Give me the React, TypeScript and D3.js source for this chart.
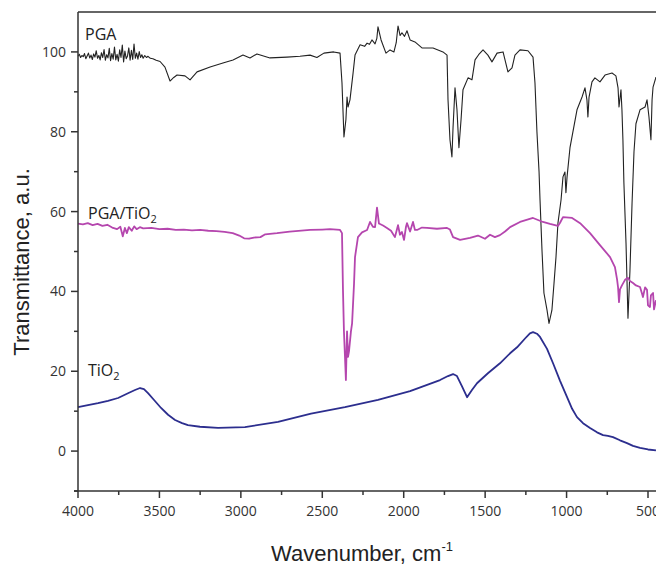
import React from 'react';
import * as d3 from 'd3';

// [wavenumber cm-1, transmittance a.u.]
const pga: [number, number][] = [
  [4000, 98.9], [3992, 99.4], [3984, 98.6], [3976, 99.1], [3968, 98.8], [3960, 99.6],
  [3952, 98.3], [3944, 99.0], [3936, 99.7], [3928, 98.5], [3920, 99.2], [3912, 98.1],
  [3904, 99.5], [3896, 98.7], [3888, 100.3], [3880, 98.4], [3872, 99.1], [3864, 98.0],
  [3856, 99.8], [3848, 98.6], [3840, 100.6], [3832, 97.9], [3824, 99.3], [3816, 98.5],
  [3808, 100.9], [3800, 97.8], [3792, 99.6], [3784, 98.2], [3776, 101.2], [3768, 98.0],
  [3760, 99.4], [3752, 97.7], [3744, 100.5], [3736, 98.6], [3728, 101.7], [3720, 97.5],
  [3712, 100.2], [3704, 98.3], [3696, 99.0], [3688, 101.0], [3680, 97.9], [3672, 100.4],
  [3664, 98.1], [3656, 102.0], [3648, 98.4], [3640, 99.7], [3632, 98.2], [3624, 100.1],
  [3616, 98.6], [3608, 99.3], [3600, 98.4], [3590, 99.1], [3580, 98.6], [3570, 98.9],
  [3556, 98.4], [3540, 98.3], [3520, 97.9], [3496, 97.6], [3466, 96.2],
  [3435, 92.7], [3412, 93.6], [3392, 94.2], [3343, 94.0], [3312, 93.0], [3269, 95.0],
  [3189, 96.2], [3110, 97.2], [3048, 98.0], [2987, 99.2], [2944, 98.5], [2901, 99.5],
  [2821, 98.5], [2717, 98.7], [2637, 98.9], [2575, 99.2], [2533, 98.6], [2490, 99.7],
  [2430, 100.0], [2391, 99.7], [2379, 92.2], [2367, 78.7], [2355, 83.0], [2348, 88.7],
  [2342, 86.2], [2330, 88.0], [2311, 94.7], [2299, 99.2], [2268, 101.8], [2240, 101.4],
  [2225, 102.2], [2210, 101.9], [2195, 103.0], [2176, 102.0], [2165, 103.4], [2158, 106.3],
  [2139, 103.0], [2109, 99.7], [2084, 100.5], [2060, 100.0], [2046, 102.3], [2035, 106.5],
  [2022, 104.1], [2011, 104.8], [1995, 103.9], [1980, 105.3], [1961, 103.0], [1931, 102.5],
  [1888, 101.0], [1820, 101.0], [1759, 100.0], [1734, 99.2], [1728, 88.0], [1716, 78.0],
  [1704, 73.7], [1697, 81.2], [1685, 91.0], [1673, 85.5], [1661, 76.0], [1648, 83.0],
  [1636, 90.5], [1605, 93.5], [1581, 93.0], [1562, 98.0], [1540, 99.3], [1513, 100.5],
  [1483, 99.2], [1458, 97.5], [1427, 99.7], [1390, 100.0], [1360, 95.0], [1335, 96.0],
  [1317, 99.2], [1286, 100.5], [1237, 100.3], [1206, 98.7], [1194, 92.2], [1182, 80.0],
  [1169, 70.0], [1163, 62.9], [1151, 50.4], [1139, 39.6], [1120, 35.3], [1108, 32.0],
  [1090, 35.3], [1077, 42.1], [1065, 48.6], [1053, 57.1], [1034, 62.9], [1022, 68.7],
  [1010, 69.9], [1004, 64.7], [997, 68.7], [979, 76.0], [936, 85.5], [905, 88.7],
  [887, 91.0], [875, 88.0], [869, 83.7], [862, 88.7], [844, 92.5], [826, 93.5],
  [795, 92.5], [764, 94.2], [721, 94.7], [697, 94.0], [684, 91.0], [678, 86.2],
  [666, 90.5], [660, 85.5], [654, 78.0], [648, 67.2], [635, 52.1], [623, 33.3],
  [611, 45.0], [598, 62.0], [586, 75.0], [574, 82.0], [549, 85.5], [518, 86.2],
  [506, 88.0], [494, 83.7], [482, 78.0], [475, 88.0], [469, 91.2], [451, 93.7]
];

const pgaTio2: [number, number][] = [
  [4000, 57.0], [3970, 56.8], [3940, 57.1], [3910, 56.6], [3880, 56.9], [3850, 56.4],
  [3820, 56.7], [3790, 56.0], [3760, 55.6], [3740, 56.2], [3725, 53.8], [3712, 55.9],
  [3700, 54.6], [3688, 56.1], [3670, 55.2], [3655, 56.3], [3640, 55.6], [3620, 56.1],
  [3600, 55.8], [3550, 55.9], [3500, 55.6], [3450, 55.7], [3400, 55.4], [3350, 55.5],
  [3300, 55.3], [3250, 55.4], [3200, 55.2], [3150, 55.1], [3100, 54.9], [3050, 54.6],
  [3010, 54.0], [2980, 53.3], [2950, 53.2], [2920, 53.5], [2880, 53.6], [2850, 54.3],
  [2778, 54.6], [2700, 55.0], [2575, 55.4], [2500, 55.5], [2453, 55.6], [2391, 55.4],
  [2379, 54.6], [2373, 40.4], [2367, 30.0], [2361, 24.0], [2355, 17.8], [2348, 30.0],
  [2342, 23.6], [2336, 25.0], [2324, 30.0], [2317, 32.0], [2305, 42.0], [2299, 48.6],
  [2281, 53.6], [2256, 54.8], [2225, 55.4], [2207, 57.4], [2189, 56.2], [2176, 56.1],
  [2164, 61.0], [2152, 57.0], [2127, 56.5], [2103, 55.9], [2078, 55.2], [2054, 53.6],
  [2035, 56.6], [2023, 54.2], [2011, 54.9], [1998, 52.9], [1986, 56.2], [1980, 57.1],
  [1961, 55.0], [1943, 57.4], [1931, 55.4], [1918, 55.4], [1888, 56.0], [1857, 55.9],
  [1796, 55.7], [1734, 55.9], [1716, 55.5], [1697, 53.6], [1654, 52.9], [1593, 53.4],
  [1544, 54.0], [1501, 53.2], [1470, 54.2], [1440, 53.6], [1409, 54.1], [1378, 55.0],
  [1347, 56.1], [1286, 57.4], [1206, 58.4], [1145, 57.4], [1102, 56.9], [1053, 56.4],
  [1040, 57.2], [1022, 58.6], [966, 58.4], [917, 57.1], [856, 54.6], [795, 51.6],
  [733, 48.6], [703, 46.1], [690, 43.0], [684, 41.1], [678, 37.3], [672, 40.5],
  [660, 41.5], [641, 42.9], [623, 43.4], [611, 42.6], [592, 42.1], [574, 41.5],
  [549, 41.1], [537, 39.5], [531, 38.6], [518, 41.0], [506, 40.4], [500, 36.5],
  [488, 36.1], [482, 39.0], [469, 39.6], [463, 35.5], [451, 37.8]
];

const tio2: [number, number][] = [
  [4000, 11.0], [3939, 11.5], [3877, 12.0], [3816, 12.6], [3754, 13.3], [3693, 14.5],
  [3650, 15.3], [3619, 15.8], [3595, 15.5], [3570, 14.5], [3533, 12.8], [3490, 10.8],
  [3447, 9.1], [3404, 7.8], [3361, 7.0], [3325, 6.5], [3251, 6.1], [3140, 5.8],
  [2975, 6.0], [2772, 7.3], [2569, 9.4], [2361, 11.0], [2158, 12.8], [1961, 15.0],
  [1777, 17.8], [1728, 18.8], [1697, 19.3], [1673, 18.8], [1642, 16.2], [1611, 13.5],
  [1581, 15.3], [1550, 17.0], [1483, 19.5], [1409, 22.0], [1347, 24.5], [1304, 26.0],
  [1255, 28.2], [1225, 29.5], [1206, 29.8], [1182, 29.4], [1163, 28.6], [1120, 25.6],
  [1083, 22.0], [1040, 17.6], [997, 13.5], [966, 10.6], [936, 8.5], [899, 7.0],
  [856, 5.8], [813, 4.7], [776, 4.0], [746, 3.8], [715, 3.5], [672, 2.7],
  [629, 2.0], [592, 1.3], [549, 0.8], [500, 0.4], [451, 0.2]
];

const xTickValues = [4000, 3500, 3000, 2500, 2000, 1500, 1000, 500];
const xMinorTicks = [3750, 3250, 2750, 2250, 1750, 1250, 750];
const yTickValues = [0, 20, 40, 60, 80, 100];
const yMinorTicks = [-10, 10, 30, 50, 70, 90];

const W = 656;
const H = 567;
const left = 78;
const top = 12;
const bottom = 491;

export default function App() {
  const x = d3.scaleLinear().domain([4000, 500]).range([left, 648]);
  const y = d3.scaleLinear().domain([-10, 110]).range([bottom, top]);
  const line = d3.line<[number, number]>().x(d => x(d[0])).y(d => y(d[1]));

  const axisColor = '#333';
  const tickFont = "'Open Sans', sans-serif";
  const titleFont = "'Liberation Sans', Arial, sans-serif";

  return (
    <svg width={W} height={H} style={{ position: 'absolute', left: 0, top: 0, background: '#fff' }}>
      <g fill="none" strokeLinejoin="round">
        <path d={line(pga) ?? ''} stroke="#222" strokeWidth={1.1} />
        <path d={line(pgaTio2) ?? ''} stroke="#b546ae" strokeWidth={1.8} />
        <path d={line(tio2) ?? ''} stroke="#2c2e8e" strokeWidth={1.8} />
      </g>

      {/* frame */}
      <line x1={left} x2={W} y1={top} y2={top} stroke={axisColor} strokeWidth={1.3} />
      <line x1={left} x2={left} y1={top} y2={bottom} stroke={axisColor} strokeWidth={1.5} />
      <line x1={left - 4} x2={W} y1={bottom} y2={bottom} stroke={axisColor} strokeWidth={1.5} />

      {/* x ticks */}
      {xTickValues.map(t => (
        <g key={t}>
          <line x1={x(t)} x2={x(t)} y1={bottom} y2={bottom + 7} stroke={axisColor} strokeWidth={1.5} />
          <text x={x(t)} y={516} textAnchor="middle" fontFamily={tickFont} fontSize={14} fill="#333">{t}</text>
        </g>
      ))}
      {xMinorTicks.map(t => (
        <line key={t} x1={x(t)} x2={x(t)} y1={bottom} y2={bottom + 4} stroke={axisColor} strokeWidth={1.5} />
      ))}

      {/* y ticks */}
      {yTickValues.map(t => (
        <g key={t}>
          <line x1={left - 7} x2={left} y1={y(t)} y2={y(t)} stroke={axisColor} strokeWidth={1.5} />
          <text x={66} y={y(t) + 5} textAnchor="end" fontFamily={tickFont} fontSize={14} fill="#333">{t}</text>
        </g>
      ))}
      {yMinorTicks.map(t => (
        <line key={t} x1={left - 4} x2={left} y1={y(t)} y2={y(t)} stroke={axisColor} strokeWidth={1.5} />
      ))}

      {/* series labels */}
      <g fontFamily={tickFont} fontSize={16} fill="#222">
        <text x={85} y={40}>PGA</text>
        <text x={88} y={219}>PGA/TiO<tspan fontSize={11} dy={4}>2</tspan></text>
        <text x={88} y={376}>TiO<tspan fontSize={11} dy={4}>2</tspan></text>
      </g>

      {/* axis titles */}
      <text x={362} y={561} textAnchor="middle" fontFamily={titleFont} fontSize={22} fill="#222">
        Wavenumber, cm<tspan fontSize={13} dy={-10}>-1</tspan>
      </text>
      <text transform="translate(29,262) rotate(-90)" textAnchor="middle" fontFamily={titleFont} fontSize={22} fill="#222">
        Transmittance, a.u.
      </text>
    </svg>
  );
}
